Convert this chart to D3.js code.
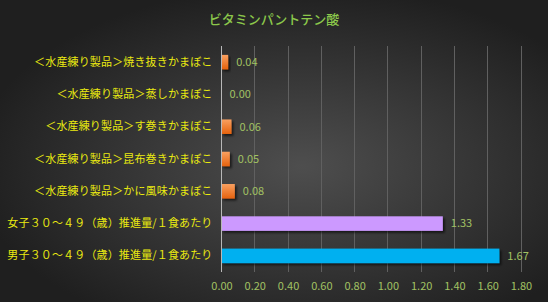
<!DOCTYPE html>
<html><head><meta charset="utf-8">
<script src="https://cdn.jsdelivr.net/npm/d3@7"></script>
<style>html,body{margin:0;padding:0;background:#333;}svg{display:block;}</style>
</head><body>
<script>
const title = "ビタミンパントテン酸";
const categories = [
  "＜水産練り製品＞焼き抜きかまぼこ",
  "＜水産練り製品＞蒸しかまぼこ",
  "＜水産練り製品＞す巻きかまぼこ",
  "＜水産練り製品＞昆布巻きかまぼこ",
  "＜水産練り製品＞かに風味かまぼこ",
  "女子３０～４９（歳）推進量/１食あたり",
  "男子３０～４９（歳）推進量/１食あたり"
];
const values = [0.04, 0.00, 0.06, 0.05, 0.08, 1.33, 1.67];
const barColors = ["orange", "orange", "orange", "orange", "orange", "#CC99FF", "#00B0F0"];
const tickValues = [0, 0.2, 0.4, 0.6, 0.8, 1.0, 1.2, 1.4, 1.6, 1.8];

const W = 548, H = 302;
const svg = d3.select("body").append("svg").attr("width", W).attr("height", H);
const defs = svg.append("defs");
const bg = defs.append("radialGradient").attr("id", "bg").attr("cx", "55%").attr("cy", "55%").attr("r", "60%");
bg.append("stop").attr("offset", "0%").attr("stop-color", "#4e4e4e");
bg.append("stop").attr("offset", "100%").attr("stop-color", "#1f1f1f");
const og = defs.append("linearGradient").attr("id", "og").attr("x1", 0).attr("y1", 0).attr("x2", 0).attr("y2", 1);
og.append("stop").attr("offset", "0%").attr("stop-color", "#F9A060");
og.append("stop").attr("offset", "100%").attr("stop-color", "#E5620E");
const sh = defs.append("filter").attr("id", "sh").attr("x", "-20%").attr("y", "-20%").attr("width", "160%").attr("height", "180%");
sh.append("feDropShadow").attr("dx", 2).attr("dy", 2).attr("stdDeviation", 1.2).attr("flood-color", "#000").attr("flood-opacity", 0.6);

svg.append("rect").attr("width", W).attr("height", H).attr("fill", "url(#bg)");

const font = "'Noto Sans CJK JP', 'Noto Sans', sans-serif";
svg.append("text").attr("x", 274).attr("y", 24).attr("text-anchor", "middle")
  .attr("fill", "#8CC84B").attr("font-size", 13).attr("font-weight", "500").attr("font-family", font).text(title);

const x = d3.scaleLinear().domain([0, 1.8]).range([221.5, 521]);
const y = d3.scaleBand().domain(categories).range([46, 272]).paddingInner(0.55).paddingOuter(0.275);

// gridlines
svg.append("g").selectAll("line").data(tickValues.slice(1)).join("line")
  .attr("x1", d => x(d)).attr("x2", d => x(d)).attr("y1", 46).attr("y2", 272)
  .attr("stroke", "#606060").attr("stroke-width", 1).attr("shape-rendering", "crispEdges");

// x axis tick labels
const xAxis = d3.axisBottom(x).tickValues(tickValues).tickFormat(d3.format(".2f")).tickSize(0).tickPadding(0);
const gx = svg.append("g").attr("transform", "translate(0,282)").call(xAxis);
gx.select(".domain").remove();
gx.selectAll("text").attr("fill", "#A2C263").attr("font-size", 11).attr("font-family", font);

// bars
svg.append("g").selectAll("rect").data(values).join("rect")
  .attr("x", x(0)).attr("y", (d, i) => y(categories[i]))
  .attr("width", d => x(d) - x(0)).attr("height", y.bandwidth())
  .attr("fill", (d, i) => barColors[i] === "orange" ? "url(#og)" : barColors[i])
  .attr("filter", "url(#sh)");

// value axis line
svg.append("line").attr("x1", x(0)).attr("x2", x(0)).attr("y1", 46).attr("y2", 272)
  .attr("stroke", "#b8b8b8").attr("stroke-width", 1).attr("shape-rendering", "crispEdges");

// category labels
const yAxis = d3.axisLeft(y).tickSize(0).tickPadding(9);
const gy = svg.append("g").attr("transform", `translate(${x(0)},0)`).call(yAxis);
gy.select(".domain").remove();
gy.selectAll("text").attr("fill", "#EAEA10").attr("font-size", 11).attr("letter-spacing", "0.15px").attr("font-family", font);

// value labels
svg.append("g").selectAll("text").data(values).join("text")
  .attr("x", d => x(d) + 8).attr("y", (d, i) => y(categories[i]) + y.bandwidth() / 2)
  .attr("dy", "0.35em").attr("fill", "#A2C263").attr("font-size", 11).attr("font-family", font)
  .text(d => d.toFixed(2));
</script>
</body></html>
